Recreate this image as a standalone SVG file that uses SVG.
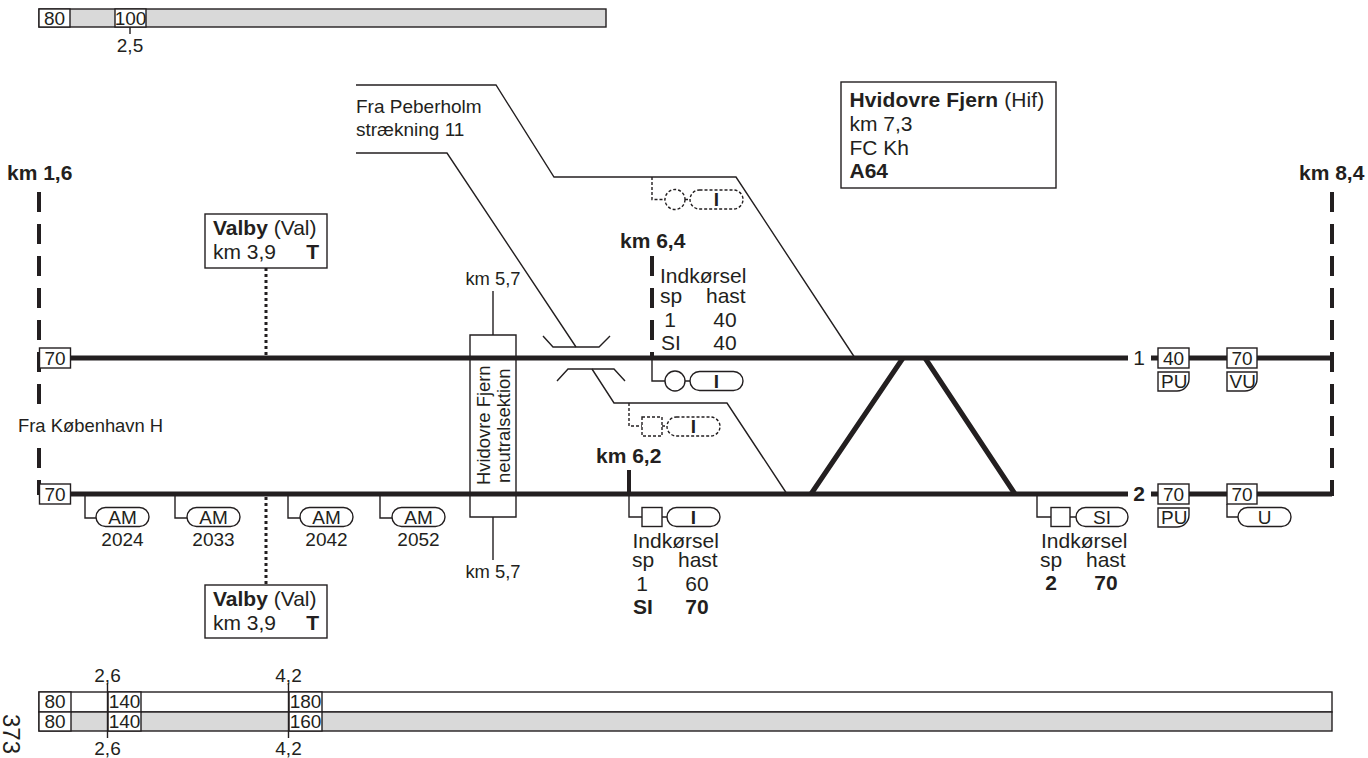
<svg xmlns="http://www.w3.org/2000/svg" width="1368" height="758" viewBox="0 0 1368 758">
<style>
text{font-family:"Liberation Sans",Arial,sans-serif;font-size:19px;fill:#231f20}
.b{font-size:21px}
.n{font-size:18.4px}
.m{text-anchor:middle}
.e{text-anchor:end}
.bold{font-weight:bold}
.s{fill:#fff;stroke:#231f20;stroke-width:1.4}
.g{fill:#d9d9d9;stroke:#231f20;stroke-width:1.4}
.t{fill:none;stroke:#231f20;stroke-width:1.4}
.d{fill:#fff;stroke:#231f20;stroke-width:1.4;stroke-dasharray:3 2}
.dl{fill:none;stroke:#231f20;stroke-width:1.4;stroke-dasharray:3 2}
.track{fill:none;stroke:#231f20;stroke-width:5}
.km{fill:none;stroke:#231f20;stroke-width:4;stroke-dasharray:20 12}
.dot{fill:none;stroke:#231f20;stroke-width:3;stroke-dasharray:3 3}
</style>
<rect width="1368" height="758" fill="#fff"/>
<g id="speed-top">
<rect class="g" x="39" y="9" width="567" height="18"/>
<rect class="s" x="39" y="9" width="31" height="18"/><text x="54.500" y="25" class="m">80</text>
<rect class="s" x="115" y="9" width="31" height="18"/><text x="130.500" y="25" class="m">100</text>
<path class="t" d="M130 27V34"/><text x="130" y="52" class="m">2,5</text>
</g>
<g id="connectors">
<path class="km" d="M39 192V372"/>
<path class="km" d="M39 384V404"/>
<path class="km" d="M39 448V495"/>
<path class="km" d="M1332 192V496"/>
<path class="km" d="M652 256V358"/>
<path class="t" d="M470 335H516V517H470Z"/>
<path class="track" d="M70 358H1128M1151 358H1332"/>
<path class="track" d="M70 494H1128M1151 494H1332"/>
<path class="track" d="M811 494L903 358M925 358L1015 494"/>
<path d="M629 470V494" stroke="#231f20" stroke-width="4" fill="none"/>
<path class="t" d="M356 85H496L554 177H736L855 358"/>
<path class="t" d="M356 153H447L576 347"/>
<path class="t" d="M543 336L553 347H599L610 336"/>
<path class="t" d="M557 381L568 369H614L625 381"/>
<path class="t" d="M592 369L614 403H727L787 494"/>
<path class="dot" d="M266 268V356"/>
<path class="dot" d="M266 497V585"/>
<path class="t" d="M493 291V335M493 517V560"/>
<path class="t" d="M85 494V518H96M175 494V518H187M288 494V518H300M380 494V518H392"/>
<path class="t" d="M629 494V517H642M662 517H667"/>
<path class="t" d="M1037 494V517H1051M1070 517H1076"/>
<path class="t" d="M652 358V381H665M685 381H690"/>
<path class="dl" d="M652 177V199.500H665M685 199.500H690"/>
<path class="dl" d="M629 403V426H642M662 426H667"/>
<path class="t" d="M1227 504V517H1238"/>
</g>
<g id="neutral-section">
<text transform="translate(490 485) rotate(-90)" class="n">Hvidovre Fjern</text>
<text transform="translate(510 483) rotate(-90)" class="n">neutralsektion</text>
<text x="493" y="285" class="m n">km 5,7</text>
<text x="493" y="578" class="m n">km 5,7</text>
</g>
<g id="km-labels">
<text x="7" y="180" class="b bold">km 1,6</text>
<text x="1299" y="180" class="b bold">km 8,4</text>
<text x="620" y="248" class="b bold">km 6,4</text>
<text x="596" y="463" class="b bold">km 6,2</text>
<text x="18" y="432" class="n">Fra København H</text>
<text x="356" y="113">Fra Peberholm</text>
<text x="356" y="136">strækning 11</text>
</g>
<g id="station-hif">
<rect class="s" x="841" y="82" width="215" height="106"/>
<text x="849.500" y="107" class="b" style="letter-spacing:.12px"><tspan class="bold">Hvidovre Fjern</tspan> (Hif)</text>
<text x="849.500" y="131" class="b">km 7,3</text>
<text x="849.500" y="155" class="b">FC Kh</text>
<text x="849.500" y="178" class="b bold">A64</text>
</g>
<g id="station-valby-top">
<rect class="s" x="205" y="214" width="122" height="54"/>
<text x="213" y="235" class="b"><tspan class="bold">Valby</tspan> (Val)</text>
<text x="213" y="259" class="b">km 3,9</text>
<text x="319" y="259" class="b bold e">T</text>
</g>
<g id="station-valby-bottom">
<rect class="s" x="205" y="585" width="122" height="53"/>
<text x="213" y="606" class="b"><tspan class="bold">Valby</tspan> (Val)</text>
<text x="213" y="630" class="b">km 3,9</text>
<text x="319" y="630" class="b bold e">T</text>
</g>
<g id="speed-70-1"><rect class="s" x="39.500" y="348" width="31" height="20"/><text x="55" y="365" class="m">70</text></g>
<g id="speed-70-2"><rect class="s" x="39.500" y="484" width="31" height="20"/><text x="55" y="501" class="m">70</text></g>
<g id="am-2024"><rect class="s" x="96" y="507.500" width="53" height="19" rx="9.500"/><text x="122.500" y="524" class="m">AM</text><text x="122.500" y="546" class="m">2024</text></g>
<g id="am-2033"><rect class="s" x="187" y="507.500" width="53" height="19" rx="9.500"/><text x="213.500" y="524" class="m">AM</text><text x="213.500" y="546" class="m">2033</text></g>
<g id="am-2042"><rect class="s" x="300" y="507.500" width="53" height="19" rx="9.500"/><text x="326.500" y="524" class="m">AM</text><text x="326.500" y="546" class="m">2042</text></g>
<g id="am-2052"><rect class="s" x="392" y="507.500" width="53" height="19" rx="9.500"/><text x="418.500" y="524" class="m">AM</text><text x="418.500" y="546" class="m">2052</text></g>
<g id="signal-top-dashed">
<circle class="d" cx="675" cy="199.500" r="10"/>
<rect class="d" x="690" y="190" width="53" height="19" rx="9.500"/><text x="716.500" y="206" class="m bold">I</text>
</g>
<g id="signal-upper">
<circle class="s" cx="675" cy="381" r="10"/>
<rect class="s" x="690" y="371.500" width="53" height="19" rx="9.500"/><text x="716.500" y="388" class="m bold">I</text>
<text x="660" y="283" class="b">Indkørsel</text>
<text x="660" y="303" class="b">sp</text><text x="706" y="303" class="b">hast</text>
<text x="670" y="327" class="b m">1</text><text x="725" y="327" class="b m">40</text>
<text x="661" y="350" class="b">SI</text><text x="725" y="350" class="b m">40</text>
</g>
<g id="signal-mid-dashed">
<rect class="d" x="642" y="417" width="20" height="19"/>
<rect class="d" x="667" y="417" width="53" height="19" rx="9.500"/><text x="693.500" y="433" class="m bold">I</text>
</g>
<g id="signal-lower">
<rect class="s" x="642" y="507.500" width="20" height="19"/>
<rect class="s" x="667" y="507.500" width="53" height="19" rx="9.500"/><text x="693.500" y="524" class="m bold">I</text>
<text x="632.500" y="548" class="b">Indkørsel</text>
<text x="632" y="567" class="b">sp</text><text x="678" y="567" class="b">hast</text>
<text x="642" y="591" class="b m">1</text><text x="697" y="591" class="b m">60</text>
<text x="633" y="614" class="b bold">SI</text><text x="697" y="614" class="b m bold">70</text>
</g>
<g id="signal-si">
<rect class="s" x="1051" y="507.500" width="19" height="19"/>
<rect class="s" x="1076" y="507.500" width="52" height="19" rx="9.500"/><text x="1102" y="524" class="m">SI</text>
<text x="1041" y="548" class="b">Indkørsel</text>
<text x="1040" y="567" class="b">sp</text><text x="1086" y="567" class="b">hast</text>
<text x="1051" y="590" class="b m bold">2</text><text x="1106" y="590" class="b m bold">70</text>
</g>
<g id="track-labels">
<text x="1139" y="365" class="b m">1</text>
<text x="1139" y="501" class="b m bold">2</text>
</g>
<g id="sign-40-pu">
<rect class="s" x="1158" y="348" width="31" height="20"/><text x="1173.500" y="365" class="m">40</text>
<path class="s" d="M1158 372H1189V379A12 12 0 0 1 1177 391H1158Z"/><text x="1161" y="388">PU</text>
</g>
<g id="sign-70-vu">
<rect class="s" x="1227" y="348" width="30" height="20"/><text x="1242" y="365" class="m">70</text>
<path class="s" d="M1227 372H1257V379A12 12 0 0 1 1245 391H1227Z"/><text x="1229.500" y="388">VU</text>
</g>
<g id="sign-70-pu">
<rect class="s" x="1158" y="484" width="31" height="20"/><text x="1173.500" y="501" class="m">70</text>
<path class="s" d="M1158 508H1189V515A12 12 0 0 1 1177 527H1158Z"/><text x="1161" y="524">PU</text>
</g>
<g id="sign-70-u">
<rect class="s" x="1227" y="484" width="30" height="20"/><text x="1242" y="501" class="m">70</text>
<rect class="s" x="1238" y="507.500" width="53" height="19" rx="9.500"/><text x="1264.500" y="524" class="m">U</text>
</g>
<g id="speed-bottom">
<rect class="s" x="39" y="692" width="1293" height="20"/>
<rect class="g" x="39" y="712" width="1293" height="19"/>
<rect class="s" x="39" y="692" width="32" height="20"/><text x="55" y="708" class="m">80</text>
<rect class="s" x="39" y="712" width="32" height="19"/><text x="55" y="728" class="m">80</text>
<rect class="s" x="108" y="692" width="33" height="20"/><text x="124.500" y="708" class="m">140</text>
<rect class="s" x="108" y="712" width="33" height="19"/><text x="124.500" y="728" class="m">140</text>
<rect class="s" x="289" y="692" width="33" height="20"/><text x="305.500" y="708" class="m">180</text>
<rect class="s" x="289" y="712" width="33" height="19"/><text x="305.500" y="728" class="m">160</text>
<path class="t" d="M107.500 683V738M288.500 683V738"/>
<text x="107.500" y="682" class="m">2,6</text><text x="107.500" y="755" class="m">2,6</text>
<text x="288.500" y="682" class="m">4,2</text><text x="288.500" y="755" class="m">4,2</text>
</g>
<text transform="translate(3 714) rotate(90)" style="font-size:24px">373</text>
</svg>
